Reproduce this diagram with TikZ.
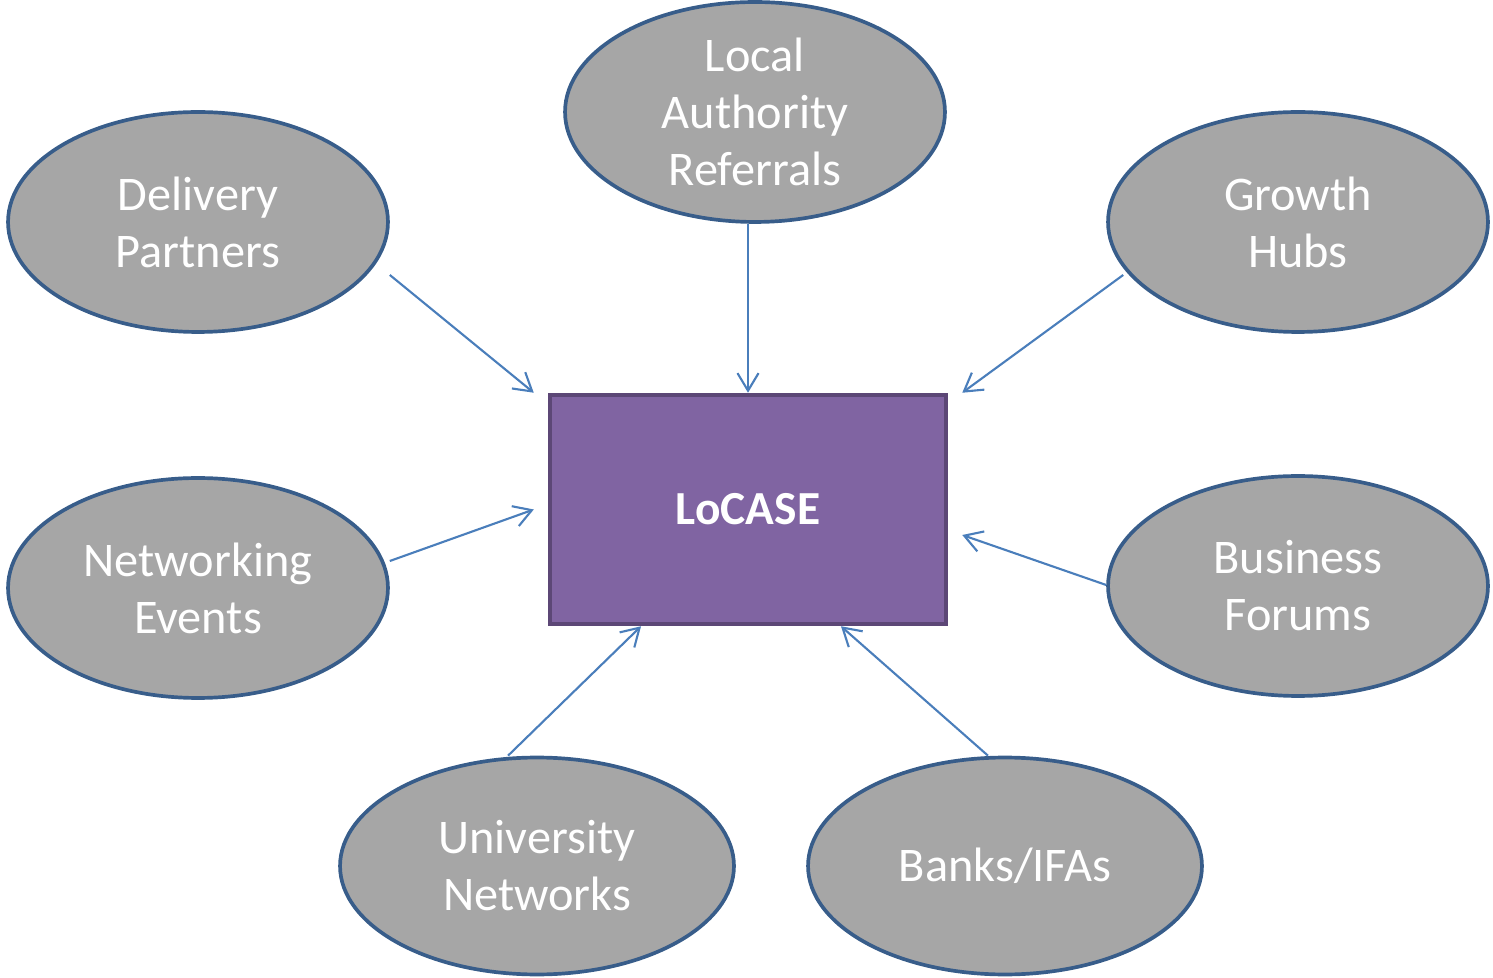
\documentclass[tikz,border=0pt]{standalone}
\usepackage{fontspec}
\setmainfont{Carlito}
\usetikzlibrary{arrows.meta,shapes.geometric}
\definecolor{ovalfill}{HTML}{A6A6A6}
\definecolor{ovalline}{HTML}{385D8A}
\definecolor{boxfill}{HTML}{8064A2}
\definecolor{boxline}{HTML}{5C4776}
\definecolor{arrowblue}{HTML}{4A7EBB}

\begin{document}
\begin{tikzpicture}
        [x=0.02cm,y=0.02cm,
        source/.style={draw=ovalline,fill=ovalfill,ellipse,line width=2.1pt,inner sep=0,
          minimum width=7.6cm,minimum height=4.4cm,text=white,align=center,
          font=\fontsize{27.5}{32.5}\selectfont},
        hub/.style={draw=boxline,fill=boxfill,rectangle,line width=2.6pt,
          minimum width=7.92cm,minimum height=4.58cm,text=white,
          font=\fontsize{27}{34}\selectfont\bfseries},
        feed/.style={draw=arrowblue,line width=1.2pt,-{Straight Barb[length=10pt,width=12pt]}}]

        \useasboundingbox (0,0) rectangle (1493,977);

        \node[hub] (lc) at (748,467.5) {LoCASE};

        \node[source] (dp) at (198,755) {Delivery\\Partners};
        \node[source] (la) at (755,865) {Local\\Authority\\Referrals};
        \node[source] (gh) at (1298,755) {Growth\\Hubs};
        \node[source] (ne) at (198,389) {Networking\\Events};
        \node[source] (bf) at (1298,391) {Business\\Forums};
        \node[source,minimum width=7.88cm,minimum height=4.34cm] (un) at (537,111) {University\\Networks};
        \node[source,minimum width=7.88cm,minimum height=4.34cm] (bk) at (1005,111) {Banks/IFAs};

        \draw[feed] ([yshift=-1.06cm]dp.east) -- ([xshift=-0.28cm]lc.north west);
        \draw[feed] (la.south -| lc.north) -- (lc.north);
        \draw[feed] ([xshift=0.34cm,yshift=-1.06cm]gh.west) -- ([xshift=0.28cm]lc.north east);
        \draw[feed] ([yshift=0.54cm]ne.east) -- ([xshift=-0.28cm]lc.west);
        \draw[feed] ([yshift=0.02cm]bf.west) -- ([xshift=0.28cm,yshift=-0.51cm]lc.east);
        \draw[feed] ([xshift=-0.58cm]un.north) -- ([xshift=-2.14cm]lc.south);
        \draw[feed] ([xshift=-0.34cm]bk.north) -- ([xshift=1.86cm]lc.south);

      \end{tikzpicture}
\end{document}
